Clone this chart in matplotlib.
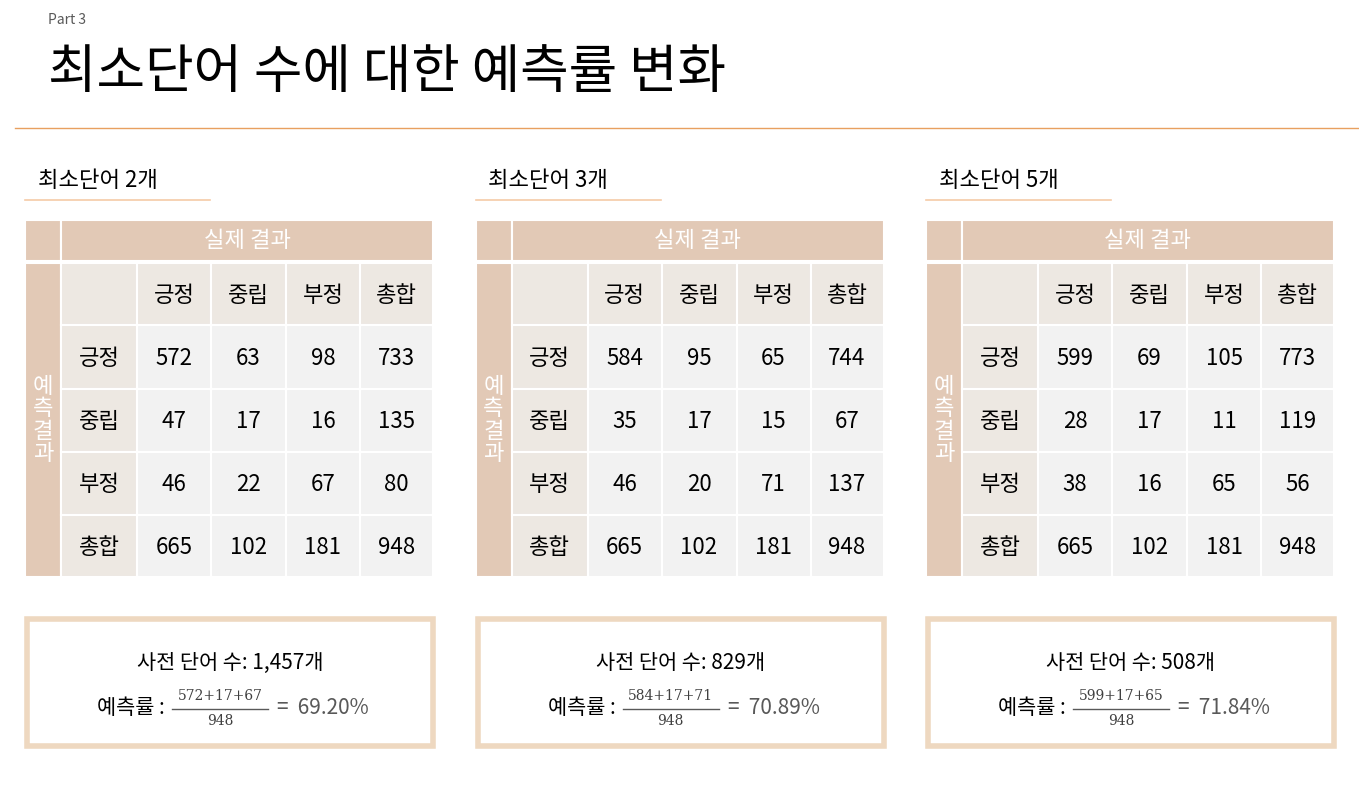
import matplotlib
matplotlib.use("Agg")
import matplotlib.pyplot as plt
from matplotlib.patches import Rectangle

plt.rcParams['font.family'] = ['Noto Sans CJK KR', 'DejaVu Sans']

# ── data ────────────────────────────────────────────────────────────────
min_words = [2, 3, 5]
labels = ["긍정", "중립", "부정", "총합"]
tables = [
    [[572, 63, 98, 733], [47, 17, 16, 135], [46, 22, 67, 80], [665, 102, 181, 948]],
    [[584, 95, 65, 744], [35, 17, 15, 67], [46, 20, 71, 137], [665, 102, 181, 948]],
    [[599, 69, 105, 773], [28, 17, 11, 119], [38, 16, 65, 56], [665, 102, 181, 948]],
]
dict_sizes = ["1,457", "829", "508"]
accuracies = ["69.20%", "70.89%", "71.84%"]

TAN = "#E2C9B6"
LIGHT = "#EDE8E2"
CELL = "#F2F2F2"
BOX = "#EED8C0"

fig = plt.figure(figsize=(13.59, 7.89), dpi=100)
ax = fig.add_axes([0, 0, 1, 1])
ax.set_xlim(0, 1359)
ax.set_ylim(789, 0)
ax.axis("off")

ax.text(48, 20, "Part 3", fontsize=10, color="#595959", va="center")
ax.text(48, 72, "최소단어 수에 대한 예측률 변화", fontsize=38, va="center")
ax.plot([15, 1359], [128, 128], color="#E8A060", lw=1)

col_x = [61, 137, 211, 286, 360, 433]
row_y = [263, 325, 389, 452, 515, 577]


def rect(x0, y0, x1, y1, color, **kw):
    ax.add_patch(Rectangle((x0, y0), x1 - x0, y1 - y0, facecolor=color,
                           edgecolor="white", lw=1.5, **kw))


for p, (n, tab) in enumerate(zip(min_words, tables)):
    dx = p * 450.5
    ax.text(38 + dx, 180, f"최소단어 {n}개", fontsize=16, va="center")
    ax.plot([25 + dx, 210 + dx], [200, 200], color="#F5CBA7", lw=1.2)

    # header
    rect(25 + dx, 220, 61 + dx, 261, TAN)
    rect(61 + dx, 220, 433 + dx, 261, TAN)
    ax.text(247 + dx, 240, "실제 결과", fontsize=16, color="white",
            ha="center", va="center")
    rect(25 + dx, 263, 61 + dx, 577, TAN)
    ax.text(43 + dx, 420, "예\n측\n결\n과", fontsize=16, color="white",
            ha="center", va="center", linespacing=0.95)

    for r in range(5):
        for c in range(5):
            x0, x1 = col_x[c] + dx, col_x[c + 1] + dx
            y0, y1 = row_y[r], row_y[r + 1]
            color = LIGHT if (r == 0 or c == 0) else CELL
            rect(x0, y0, x1, y1, color)
            if r == 0 and c == 0:
                continue
            if r == 0:
                s = labels[c - 1]
            elif c == 0:
                s = labels[r - 1]
            else:
                s = str(tab[r - 1][c - 1])
            ax.text((x0 + x1) / 2, (y0 + y1) / 2 + 1, s, fontsize=16,
                    ha="center", va="center")

    # summary box
    ax.add_patch(Rectangle((27 + dx, 619), 406, 127, facecolor="white",
                           edgecolor=BOX, lw=4))
    ax.text(230 + dx, 663, f"사전 단어 수: {dict_sizes[p]}개", fontsize=15,
            ha="center", va="center")
    ax.text(165 + dx, 708, "예측률 :", fontsize=15, ha="right", va="center")
    num = f"{tab[0][0]}+{tab[1][1]}+{tab[2][2]}"
    ax.text(220 + dx, 696, num, fontsize=10, ha="center", va="center",
            family="DejaVu Serif", color="#404040")
    ax.plot([172 + dx, 268 + dx], [709, 709], color="#595959", lw=1)
    ax.text(220 + dx, 721, str(tab[3][3]), fontsize=10, ha="center",
            va="center", family="DejaVu Serif", color="#404040")
    ax.text(277 + dx, 708, f"=  {accuracies[p]}", fontsize=15,
            ha="left", va="center", color="#595959")

fig.savefig("out.png", dpi=100)
